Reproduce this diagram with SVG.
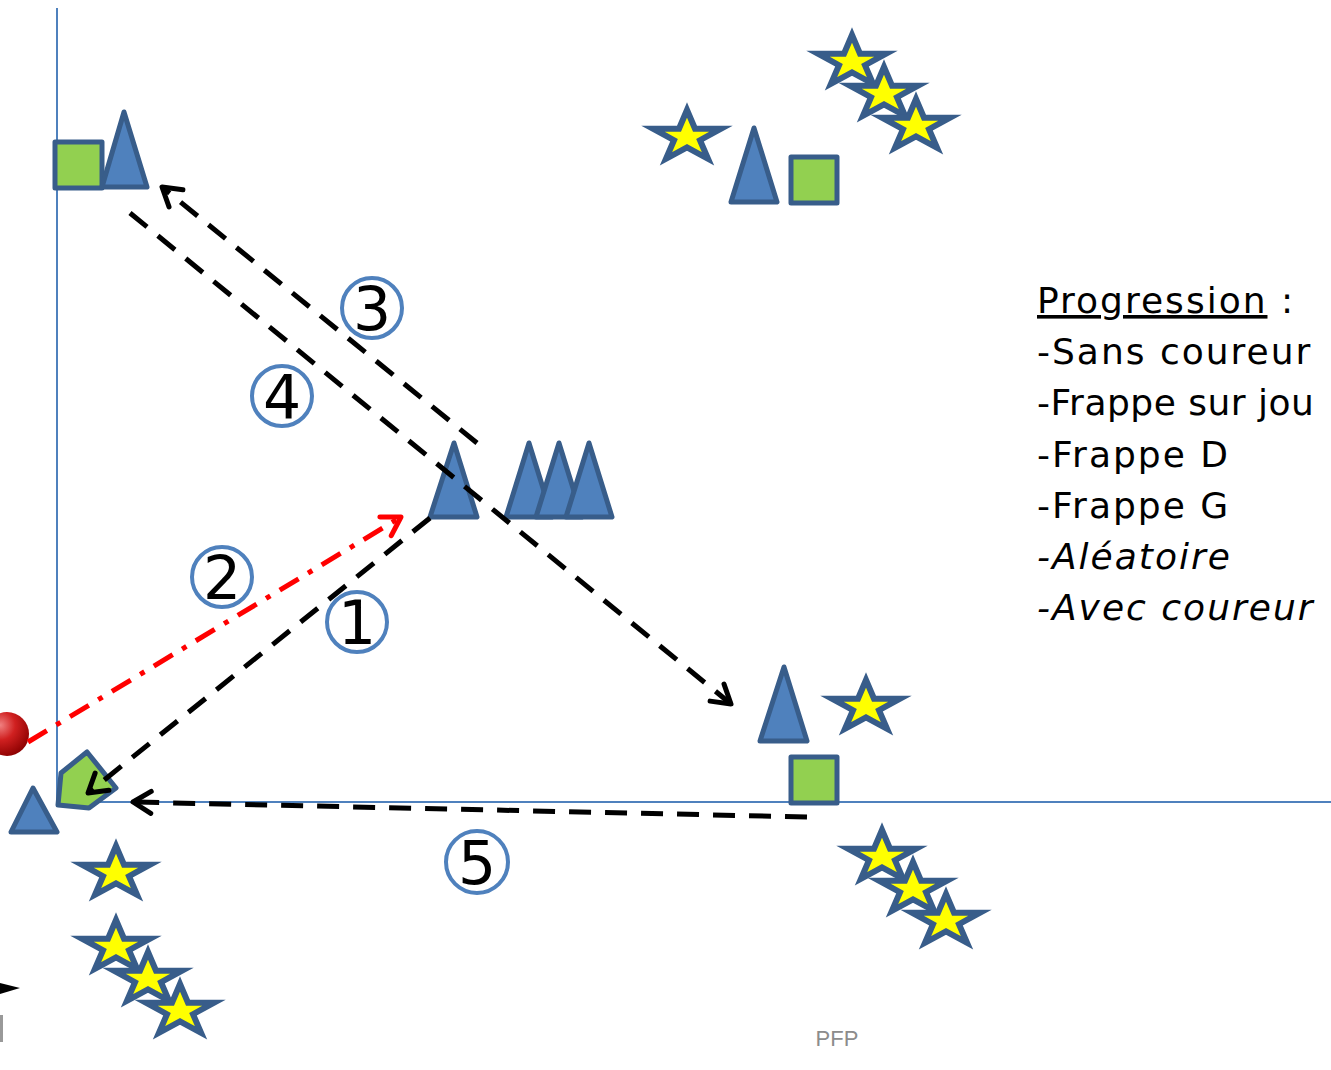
<svg xmlns="http://www.w3.org/2000/svg" xmlns:xlink="http://www.w3.org/1999/xlink" width="1331" height="1070" viewBox="0 0 1331 1070">
<style>
.tri{fill:#4F81BD;stroke:#385D8A;stroke-width:5;stroke-linejoin:round}
.sq{fill:#92D050;stroke:#385D8A;stroke-width:5;stroke-linejoin:round}
.star{fill:#FFFF00;stroke:#385D8A;stroke-width:6;stroke-linejoin:miter;stroke-miterlimit:10}
.axis{stroke:#4F81BD;stroke-width:2;fill:none}
.num circle{fill:none;stroke:#4F81BD;stroke-width:4}
.num text{font-family:"DejaVu Sans","Liberation Sans",sans-serif;font-size:60px;fill:#000;text-anchor:middle}
.dash{fill:none;stroke:#000;stroke-width:5;stroke-dasharray:22 14}
.red{fill:none;stroke:#FF0000;stroke-width:5;stroke-dasharray:22 11 5 11}
.legend{font-family:"DejaVu Sans","Liberation Sans",sans-serif;font-size:36px;letter-spacing:2px;fill:#000}
</style>
<defs>
<polygon id="starShape" points="0,-27 8,-8.3 34,-8.3 13,3.2 21,21.8 0,10.3 -21,21.8 -13,3.2 -34,-8.3 -8,-8.3"/>
<radialGradient id="ballGrad" cx="0.35" cy="0.3" r="0.75">
<stop offset="0" stop-color="#F08080"/>
<stop offset="0.45" stop-color="#D02020"/>
<stop offset="1" stop-color="#8B0000"/>
</radialGradient>
<marker id="arrowBlack" markerUnits="userSpaceOnUse" markerWidth="30" markerHeight="30" viewBox="0 0 30 30" refX="26" refY="15" orient="auto">
<path d="M8,4 L26,15 L8,26" fill="none" stroke="#000" stroke-width="5" stroke-linecap="round" stroke-linejoin="round"/>
</marker>
<marker id="arrowRed" markerUnits="userSpaceOnUse" markerWidth="30" markerHeight="30" viewBox="0 0 30 30" refX="26" refY="15" orient="auto">
<path d="M8,4 L26,15 L8,26" fill="none" stroke="#FF0000" stroke-width="5" stroke-linecap="round" stroke-linejoin="round"/>
</marker>
</defs>
<rect width="1331" height="1070" fill="#FFFFFF"/>

<g id="axes">
<line class="axis" x1="57" y1="8" x2="57" y2="806"/>
<line class="axis" x1="57" y1="802" x2="1331" y2="802"/>
</g>

<g id="node-topleft-square"><rect class="sq" x="55" y="142" width="47" height="46"/></g>
<g id="node-topleft-triangle"><polygon class="tri" points="124,112 147,187 102,187"/></g>

<g id="node-top-star"><use xlink:href="#starShape" class="star" transform="translate(687,137)"/></g>
<g id="node-top-triangle"><polygon class="tri" points="754,128 777,202 731,202"/></g>
<g id="node-top-square"><rect class="sq" x="791" y="157" width="46" height="46"/></g>
<g id="node-top-stars">
<use xlink:href="#starShape" class="star" transform="translate(852,62)"/>
<use xlink:href="#starShape" class="star" transform="translate(884,94)"/>
<use xlink:href="#starShape" class="star" transform="translate(916,126)"/>
</g>

<g id="node-mid-triangle"><polygon class="tri" points="454,443 477,517 430,517"/></g>
<g id="node-mid-triangles">
<polygon class="tri" points="529,443 552,517 506,517"/>
<polygon class="tri" points="559,443 582,517 536,517"/>
<polygon class="tri" points="589,443 612,517 566,517"/>
</g>

<g id="node-br-triangle"><polygon class="tri" points="784,667 807,741 760,741"/></g>
<g id="node-br-star"><use xlink:href="#starShape" class="star" transform="translate(866,707)"/></g>
<g id="node-br-square"><rect class="sq" x="791" y="757" width="46" height="46"/></g>
<g id="node-br-stars">
<use xlink:href="#starShape" class="star" transform="translate(882,857)"/>
<use xlink:href="#starShape" class="star" transform="translate(913,889)"/>
<use xlink:href="#starShape" class="star" transform="translate(946,921)"/>
</g>

<g id="node-ball"><circle cx="7" cy="734" r="22" fill="url(#ballGrad)"/></g>
<g id="node-bl-triangle"><polygon class="tri" points="33,788 57,832 11,832"/></g>
<g id="node-pentagon"><polygon class="sq" points="87,752 116,788 89,808 58,805 61,773"/></g>
<g id="node-bl-stars">
<use xlink:href="#starShape" class="star" transform="translate(116,873)"/>
<use xlink:href="#starShape" class="star" transform="translate(116,947)"/>
<use xlink:href="#starShape" class="star" transform="translate(148,979)"/>
<use xlink:href="#starShape" class="star" transform="translate(180,1011)"/>
</g>
<g id="node-bl-partial">
<polygon points="0,983 20,988 0,994" fill="#000"/>
<line x1="1.5" y1="1015" x2="1.5" y2="1042" stroke="#999" stroke-width="3"/>
</g>

<g id="connectors">
<line class="dash" x1="430" y1="518" x2="88" y2="793" marker-end="url(#arrowBlack)"/>
<line class="red" x1="28" y1="742" x2="401" y2="517" marker-end="url(#arrowRed)"/>
<line class="dash" x1="477" y1="443" x2="162" y2="187" marker-end="url(#arrowBlack)"/>
<line class="dash" x1="130" y1="213" x2="731" y2="704" marker-end="url(#arrowBlack)"/>
<line class="dash" x1="807" y1="817" x2="133" y2="802" marker-end="url(#arrowBlack)"/>
</g>

<g id="label-1" class="num"><circle cx="357" cy="622" r="30"/><text x="357" y="644">1</text></g>
<g id="label-2" class="num"><circle cx="222" cy="577" r="30"/><text x="222" y="599">2</text></g>
<g id="label-3" class="num"><circle cx="372" cy="308" r="30"/><text x="372" y="330">3</text></g>
<g id="label-4" class="num"><circle cx="282" cy="396" r="30"/><text x="282" y="418">4</text></g>
<g id="label-5" class="num"><circle cx="477" cy="862" r="31"/><text x="477" y="884">5</text></g>

<g id="legend" class="legend">
<text x="1037" y="313"><tspan text-decoration="underline">Progression</tspan> :</text>
<text x="1037" y="364">-Sans coureur</text>
<text x="1037" y="415" letter-spacing="0.5">-Frappe sur jou</text>
<text x="1037" y="467">-Frappe D</text>
<text x="1037" y="518">-Frappe G</text>
<text x="1037" y="569" font-style="italic">-Aléatoire</text>
<text x="1037" y="620" font-style="italic">-Avec coureur</text>
</g>

<text x="837" y="1046" font-family="'Liberation Sans','Open Sans',sans-serif" font-size="22" fill="#8C8C8C" text-anchor="middle">PFP</text>
</svg>
